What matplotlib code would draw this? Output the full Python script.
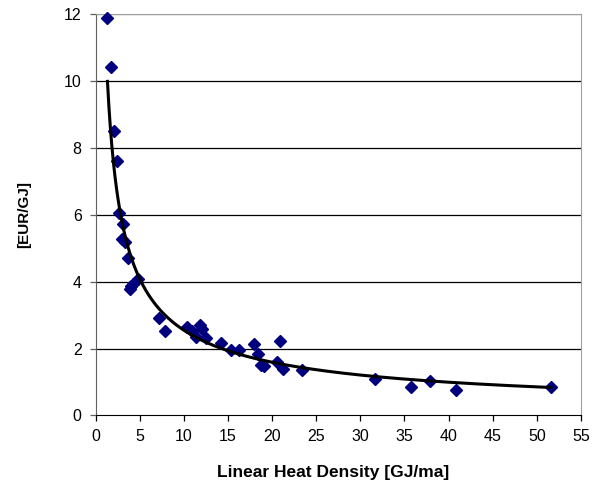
import numpy as np
import matplotlib
matplotlib.use("Agg")
import matplotlib.pyplot as plt

plt.rcParams["font.family"] = ["Liberation Sans", "DejaVu Sans"]

# linear heat density [GJ/ma] vs. distribution cost [EUR/GJ]
density = [1.3, 1.75, 2.1, 2.45, 2.6, 3.1, 3.0, 3.3, 3.65, 4.0, 3.9, 4.2, 4.8,
           7.2, 7.9, 10.4, 10.9, 11.4, 11.8, 12.0, 12.5, 14.2, 15.3, 16.2,
           17.9, 18.4, 18.7, 19.1, 20.6, 20.9, 21.2, 23.4, 31.7, 35.7, 37.9,
           40.8, 51.6]
cost = [11.9, 10.44, 8.5, 7.6, 6.05, 5.72, 5.27, 5.2, 4.72, 3.87, 3.78, 3.92,
        4.08, 2.9, 2.52, 2.65, 2.53, 2.35, 2.7, 2.58, 2.33, 2.18, 1.97, 1.95,
        2.15, 1.83, 1.5, 1.48, 1.6, 2.23, 1.4, 1.35, 1.08, 0.85, 1.02, 0.75,
        0.85]

# power trendline y = a * x^b
trend_a = 12.2
trend_b = -0.68

x = np.array(density)
y = np.array(cost)
xf = np.linspace(1.34, x.max(), 300)
yf = trend_a * xf ** trend_b

fig = plt.figure(figsize=(5.94, 4.83), dpi=100)
ax = fig.add_axes([0.161, 0.140, 0.817, 0.830])

for v in range(2, 12, 2):
    ax.axhline(v, color="black", lw=0.9, zorder=1)
ax.axhline(12, color="#a0a0a0", lw=1.0, zorder=1)

ax.plot(x, y, "D", color="#00007f", ms=6.5, mec="#00007f", zorder=3,
        linestyle="none", clip_on=False)
ax.plot(xf, yf, color="black", lw=2.2, zorder=4)

ax.set_xlim(0, 55)
ax.set_ylim(0, 12)
ax.set_xticks(range(0, 56, 5))
ax.set_yticks(range(0, 13, 2))
ax.tick_params(direction="out", length=4, width=0.9, labelsize=11.5,
               pad=6, colors="black")
ax.tick_params(axis="y", color="#606060")

for side in ("top", "right"):
    ax.spines[side].set_color("#a0a0a0")
ax.spines["left"].set_color("#606060")
ax.spines["bottom"].set_color("black")

ax.set_xlabel("Linear Heat Density [GJ/ma]", fontsize=12.5,
              fontweight="bold", labelpad=13)
ax.xaxis.set_label_coords(0.49, -0.125)
ax.set_ylabel("[EUR/GJ]", fontsize=11, fontweight="bold", labelpad=24)

fig.savefig("out.png", dpi=100, facecolor="white")
